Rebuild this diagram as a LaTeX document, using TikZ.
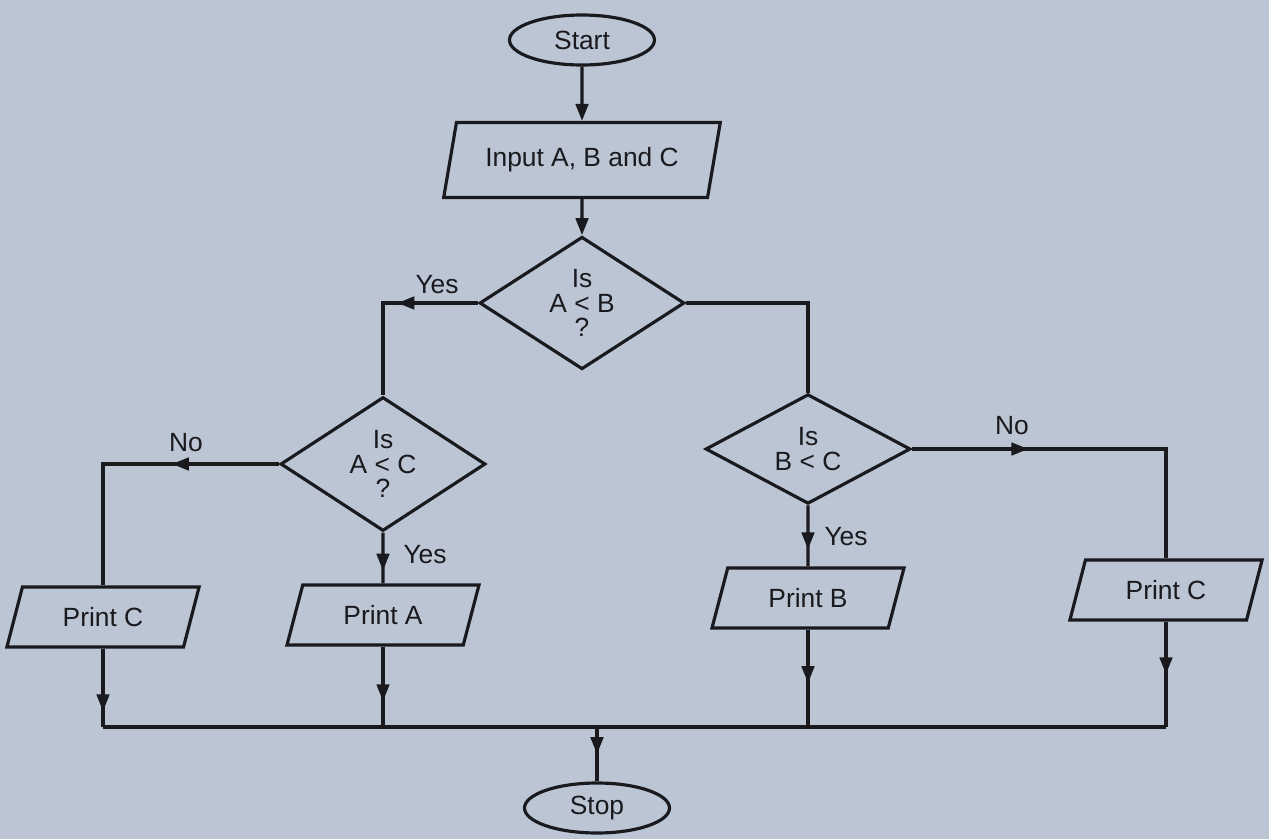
\documentclass[tikz,border=0pt]{standalone}
\usepackage{fontspec}
\setmainfont{Liberation Sans}
\usetikzlibrary{shapes.geometric, arrows.meta, positioning, decorations.markings}
\usepackage{xcolor}
\definecolor{paper}{RGB}{187,197,211}
\definecolor{ink}{RGB}{25,25,30}

\begin{document}
\begin{tikzpicture}[x=0.02cm, y=-0.02cm,
        font=\fontsize{15}{14}\selectfont,
        every node/.style={text=ink},
        flow/.style={draw=ink, line width=1.8pt},
        terminal/.style={flow, ellipse, minimum width=2.9cm, minimum height=1cm, inner sep=0pt},
        inout/.style={flow, trapezium, trapezium left angle=74, trapezium right angle=106,
            trapezium stretches=true, minimum width=3.86cm, minimum height=1.2cm},
        decision/.style={flow, diamond, minimum width=4.1cm, minimum height=2.1cm, inner sep=0pt, align=center},
        link/.style={draw=ink, line width=1.8pt, >={Triangle[length=0.34cm,width=0.25cm]}},
        tipat/.style={postaction={decorate}, decoration={markings,
            mark=at position #1 with {\arrow{Triangle[length=0.34cm,width=0.25cm]}}}}]
                \useasboundingbox (0,0) rectangle (1269,839);
                \fill[paper] (0,0) rectangle (1269,839);

                \node (start) [terminal] at (582,40) {Start};
                \node (input) [inout, minimum width=5.54cm, minimum height=1.5cm] at (582,160) {Input A, B and C};
                \node (isab) [decision] at (582,303) {Is\\A < B\\?};
                \node (isac) [decision] at (383,464) {Is\\A < C\\?};
                \node (isbc) [decision] at (808,449) {Is\\B < C};
                \node (printc1) [inout] at (103,617) {Print C};
                \node (printa) [inout] at (383,615) {Print A};
                \node (printb) [inout] at (808,598) {Print B};
                \node (printc2) [inout] at (1166,590) {Print C};
                \node (stop) [terminal] at (597,808) {Stop};
                \coordinate (merge) at (597,727);

                \draw[link, ->] (start) -- (input);
                \draw[link, ->] (input) -- (isab);
                \draw[link, tipat=0.43] (isab.west) -| (isac.north);
                \draw[link] (isab.east) -| (isbc.north);
                \draw[link, tipat=0.36] (isac.west) -| (printc1.north);
                \draw[link, tipat=0.75] (isac.south) -- (printa.north);
                \draw[link, tipat=0.72] (isbc.south) -- (printb.north);
                \draw[link, tipat=0.32] (isbc.east) -| (printc2.north);

                % all outputs join the bottom line
                \draw[link, tipat=0.8] (printc1.south) -- (printc1.south |- merge);
                \draw[link, tipat=0.68] (printa.south) -- (printa.south |- merge);
                \draw[link, tipat=0.55] (printb.south) -- (printb.south |- merge);
                \draw[link, tipat=0.5] (printc2.south) -- (printc2.south |- merge);
                \draw[link] (printc1.south |- merge) -- (printc2.south |- merge);
                \draw[link, tipat=0.5] (merge) -- (stop.north);

                \node (yesab) at (437,285) {Yes};
                \node (noac) at (186,443) {No};
                \node (yesac) at (425,555) {Yes};
                \node (nobc) at (1012,426) {No};
                \node (yesbc) at (846,537) {Yes};
\end{tikzpicture}
\end{document}
